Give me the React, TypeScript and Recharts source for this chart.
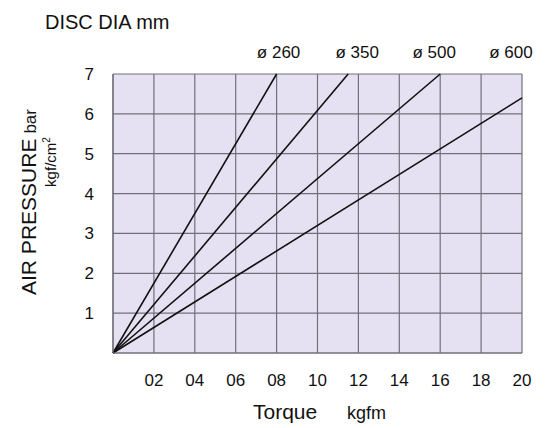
import { CartesianGrid, LabelList, Line, LineChart, XAxis, YAxis } from "recharts";

// torque (kgfm) reached at the chart edge for each disc diameter, starting from origin
const discs = ["ø260", "ø350", "ø500", "ø600"];
const endTorque = [8, 11.5, 16, 20];
const endPressure = [7, 7, 7, 6.4];
const xTicks = [2, 4, 6, 8, 10, 12, 14, 16, 18, 20];
const yTicks = [1, 2, 3, 4, 5, 6, 7];

const labelShift = [2, 9, -6, -11];

const series = discs.map((name, i) => ({
  name,
  points: [
    { torque: 0, pressure: 0 },
    { torque: endTorque[i], pressure: endPressure[i] },
  ],
}));

const font = "'Liberation Sans', Arial, sans-serif";
const gridColor = "#70707a";

const App = () => {
  return (
    <div style={{ position: "absolute", left: 0, top: 0 }}>
      <LineChart
        width={547}
        height={428}
        margin={{ top: 74, right: 25, bottom: 35, left: 73 }}
        style={{ fontFamily: font }}
      >
        <CartesianGrid stroke={gridColor} fill="#e6e1f2" strokeWidth={1.2} />
        <XAxis
          type="number"
          dataKey="torque"
          domain={[0, 20]}
          ticks={xTicks}
          tickFormatter={(v: number) => String(v).padStart(2, "0")}
          height={40}
          tickSize={0}
          tickMargin={21}
          axisLine={{ stroke: gridColor, strokeWidth: 1.2 }}
          tick={{ fill: "#111", fontSize: 17 }}
          label={{
            content: () => (
              <text x={253} y={419} fill="#111" fontFamily={font}>
                <tspan fontSize={21}>Torque</tspan>
                <tspan fontSize={18} x={347}>kgfm</tspan>
              </text>
            ),
          }}
        />
        <YAxis
          type="number"
          dataKey="pressure"
          domain={[0, 7]}
          ticks={yTicks}
          width={40}
          tickSize={0}
          tickMargin={19}
          axisLine={{ stroke: gridColor, strokeWidth: 1.2 }}
          tick={{ fill: "#111", fontSize: 17 }}
          label={{
            content: () => (
              <g fontFamily={font} fill="#111">
                <text x={45} y={29} fontSize={20}>DISC DIA mm</text>
                <text transform="translate(36,202) rotate(-90)" textAnchor="middle">
                  <tspan fontSize={21}>AIR PRESSURE</tspan>
                  <tspan fontSize={17} dx={5}>bar</tspan>
                </text>
                <text transform="translate(56,162) rotate(-90)" textAnchor="middle" fontSize={15}>
                  kgf/cm<tspan fontSize={10} dy={-6}>2</tspan>
                </text>
              </g>
            ),
          }}
        />
        {series.map((s, i) => (
          <Line
            key={s.name}
            data={s.points}
            dataKey="pressure"
            stroke="#111"
            strokeWidth={1.6}
            dot={false}
            isAnimationActive={false}
          >
            <LabelList
              dataKey="pressure"
              content={(props: any) =>
                props.index === 1 ? (
                  <text
                    x={props.x + labelShift[i]}
                    y={58}
                    textAnchor="middle"
                    fontSize={17}
                    fill="#111"
                    fontFamily={font}
                  >
                    {s.name.replace("ø", "ø ")}
                  </text>
                ) : null
              }
            />
          </Line>
        ))}
      </LineChart>
    </div>
  );
};

export default App;
